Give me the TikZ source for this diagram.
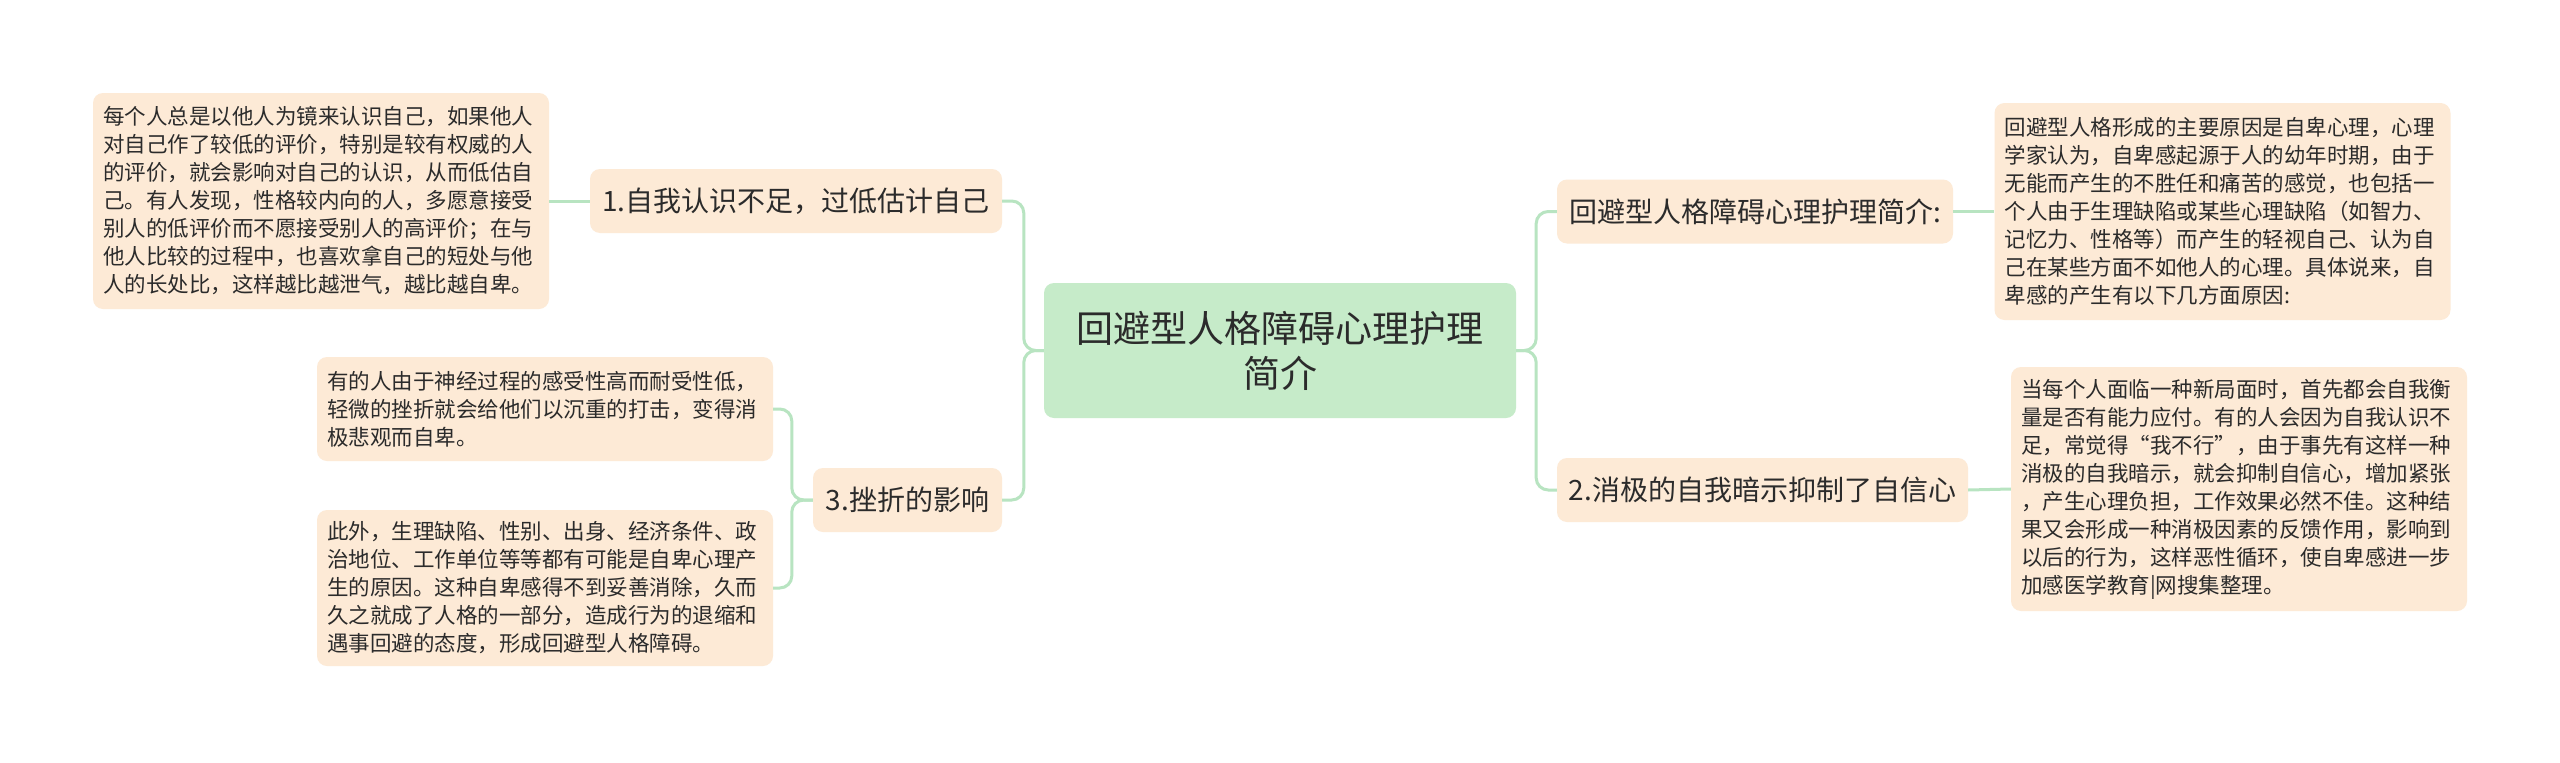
\documentclass[tikz,border=0pt]{standalone}
\usepackage{fontspec}
\newfontfamily\cjk{Noto Sans CJK SC}
\definecolor{leaf}{HTML}{FDEAD6}
\definecolor{rootc}{HTML}{C6EBC9}
\definecolor{lineg}{HTML}{B8E4C1}
\definecolor{txt}{HTML}{2B2B2B}
\begin{document}
\begin{tikzpicture}[x=1pt,y=-1pt,
  leafbox/.style={fill=leaf, rounded corners=10pt, inner xsep=10pt, inner ysep=0pt,
    text width=436pt, align=left, text=txt, font=\cjk\fontsize{21.5}{28}\selectfont},
  branchbox/.style={fill=leaf, rounded corners=10pt, inner sep=0pt, minimum height=64pt,
    text=txt, font=\cjk\fontsize{28}{34}\selectfont},
  rootbox/.style={fill=rootc, rounded corners=10pt, inner sep=0pt, align=center,
    minimum width=472pt, minimum height=135pt, text=txt, font=\cjk\fontsize{37}{45}\selectfont},
  conn/.style={draw=lineg, line width=3pt, rounded corners=12pt}]
\useasboundingbox[fill=white] (0,0) rectangle (2560,763);

\node[rootbox] (root) at (1280,350.5) {回避型人格障碍心理护理\\简介};

\node[branchbox, minimum width=412pt] (b1) at (796,201) {1.自我认识不足，过低估计自己};
\node[branchbox, minimum width=189pt] (b3) at (907.5,500) {3.挫折的影响};
\node[branchbox, minimum width=396pt] (br1) at (1755,211.5) {回避型人格障碍心理护理简介:};
\node[branchbox, minimum width=411pt] (br2) at (1762.5,490) {2.消极的自我暗示抑制了自信心};

\node[leafbox, minimum height=216pt] (l1) at (321,201) {每个人总是以他人为镜来认识自己，如果他人\\对自己作了较低的评价，特别是较有权威的人\\的评价，就会影响对自己的认识，从而低估自\\己。有人发现，性格较内向的人，多愿意接受\\别人的低评价而不愿接受别人的高评价；在与\\他人比较的过程中，也喜欢拿自己的短处与他\\人的长处比，这样越比越泄气，越比越自卑。};
\node[leafbox, minimum height=104pt] (l2) at (545,409) {有的人由于神经过程的感受性高而耐受性低，\\轻微的挫折就会给他们以沉重的打击，变得消\\极悲观而自卑。};
\node[leafbox, minimum height=156pt] (l3) at (545,588) {此外，生理缺陷、性别、出身、经济条件、政\\治地位、工作单位等等都有可能是自卑心理产\\生的原因。这种自卑感得不到妥善消除，久而\\久之就成了人格的一部分，造成行为的退缩和\\遇事回避的态度，形成回避型人格障碍。};
\node[leafbox, minimum height=217pt] (r1) at (2222.5,211.5) {回避型人格形成的主要原因是自卑心理，心理\\学家认为，自卑感起源于人的幼年时期，由于\\无能而产生的不胜任和痛苦的感觉，也包括一\\个人由于生理缺陷或某些心理缺陷（如智力、\\记忆力、性格等）而产生的轻视自己、认为自\\己在某些方面不如他人的心理。具体说来，自\\卑感的产生有以下几方面原因:};
\node[leafbox, minimum height=244pt] (r2) at (2239,489) {当每个人面临一种新局面时，首先都会自我衡\\量是否有能力应付。有的人会因为自我认识不\\足，常觉得“我不行”，由于事先有这样一种\\消极的自我暗示，就会抑制自信心，增加紧张\\，产生心理负担，工作效果必然不佳。这种结\\果又会形成一种消极因素的反馈作用，影响到\\以后的行为，这样恶性循环，使自卑感进一步\\加感医学教育|网搜集整理。};

\begin{scope}[on background layer/.try]
\draw[conn] (root.west) -- ++(-20,0) |- (b1.east);
\draw[conn] (root.west) -- ++(-20,0) |- (b3.east);
\draw[conn] (root.east) -- ++(20,0) |- (br1.west);
\draw[conn] (root.east) -- ++(20,0) |- (br2.west);
\draw[conn] (b1.west) -- (l1.east);
\draw[conn] (b3.west) -- ++(-21,0) |- (l2.east);
\draw[conn] (b3.west) -- ++(-21,0) |- (l3.east);
\draw[conn] (br1.east) -- (r1.west);
\draw[conn] (br2.east) -- (r2.west);
\end{scope}
\end{tikzpicture}
\end{document}
